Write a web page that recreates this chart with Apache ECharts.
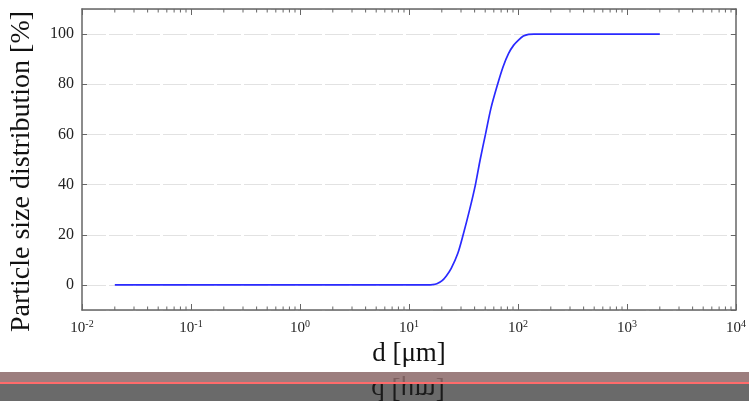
<!DOCTYPE html>
<html>
<head>
<meta charset="utf-8">
<script src="https://cdn.jsdelivr.net/npm/echarts@6/dist/echarts.min.js"></script>
<style>
  html, body { margin: 0; padding: 0; background: #fff; }
  #chart { width: 749px; height: 401px; }
</style>
</head>
<body>
<div id="chart"></div>
<script>
// particle size d [um] vs cumulative distribution [%]
var sizes = [0.02, 1, 10, 15, 16.5, 18, 20, 22, 24.4, 28, 31.4, 36, 40.7, 45, 50.3, 56.5, 65, 73, 82, 91, 101, 112, 125, 140, 2000];
var dist  = [0,    0, 0,  0,  0.1,  0.5, 1.6, 3.6, 6.6, 12.5, 20, 30, 40, 50, 60, 70.5, 80, 87, 92.3, 95.5, 97.6, 99.2, 99.9, 100, 100];

var xName = 'd [\u03bcm]';
var yName = 'Particle size distribution [%]';

var seriesData = []
for (var i = 0; i < sizes.length; ++i) {
    seriesData.push([sizes[i], dist[i]])
}

// log minor ticks 2..9 of each decade
var minorTicks = []
for (var e = -2; e < 4; ++e) {
    for (var m = 2; m <= 9; ++m) {
        minorTicks.push([m * Math.pow(10, e), 0])
    }
}

var serif = 'Liberation Serif';
var axisColor = '#666';

function expLabel(v) {
    var p = Math.round(Math.log(v) / Math.LN10)
    return '10{sup|' + p + '}'
}

var option = {
    animation: false,
    backgroundColor: '#fff',
    grid: { left: 82, right: 11, top: 9, bottom: 91 },
    xAxis: [
        {
            type: 'log',
            logBase: 10,
            min: 0.01,
            max: 10000,
            splitNumber: 6,
            name: xName,
            nameLocation: 'middle',
            nameGap: 28,
            nameTextStyle: { fontFamily: serif, fontSize: 27, color: '#111' },
            axisLine: { show: true, onZero: false, lineStyle: { color: axisColor, width: 1.5 } },
            axisTick: { show: true, inside: true, length: 6, lineStyle: { color: axisColor } },
            splitLine: { show: false },
            axisLabel: {
                formatter: expLabel,
                margin: 9,
                fontFamily: serif,
                fontSize: 15,
                color: '#222',
                rich: {
                    sup: { fontFamily: serif, fontSize: 10, color: '#222', verticalAlign: 'top', padding: [0, 0, 8, 0] }
                }
            }
        },
        {
            type: 'log',
            logBase: 10,
            min: 0.01,
            max: 10000,
            splitNumber: 6,
            position: 'top',
            axisLine: { show: true, onZero: false, lineStyle: { color: axisColor, width: 1.5 } },
            axisTick: { show: true, inside: true, length: 6, lineStyle: { color: axisColor } },
            axisLabel: { show: false },
            splitLine: { show: false }
        }
    ],
    yAxis: [
        {
            type: 'value',
            min: -10,
            max: 110,
            splitNumber: 6,
            name: yName,
            nameLocation: 'middle',
            nameGap: 46,
            nameTextStyle: { fontFamily: serif, fontSize: 28, color: '#111', padding: [0, 24, 0, 0] },
            axisLine: { show: true, lineStyle: { color: axisColor, width: 1.5 } },
            axisTick: { show: true, inside: true, length: 5, lineStyle: { color: axisColor } },
            axisLabel: {
                margin: 8,
                fontFamily: serif,
                fontSize: 16,
                color: '#222',
                showMinLabel: false,
                showMaxLabel: false
            },
            splitLine: {
                show: true,
                lineStyle: { color: '#e2e2e2', type: [24, 3], width: 1 }
            }
        },
        {
            type: 'value',
            min: -10,
            max: 110,
            splitNumber: 6,
            position: 'right',
            axisLine: { show: true, lineStyle: { color: axisColor, width: 1.5 } },
            axisTick: { show: true, inside: true, length: 5, lineStyle: { color: axisColor } },
            axisLabel: { show: false },
            splitLine: { show: false }
        }
    ],
    series: [
        {
            type: 'line',
            data: seriesData,
            showSymbol: false,
            smooth: 0.3,
            lineStyle: { color: '#2a2aff', width: 1.7 },
            z: 5
        },
        {
            // minor log ticks, bottom and top
            type: 'custom',
            data: minorTicks,
            silent: true,
            clip: false,
            encode: { x: 0, y: 1 },
            renderItem: function (params, api) {
                var cs = params.coordSys
                var px = api.coord([api.value(0), 0])[0]
                var st = { stroke: axisColor, lineWidth: 1 }
                return {
                    type: 'group',
                    children: [
                        { type: 'line', shape: { x1: px, y1: cs.y + cs.height, x2: px, y2: cs.y + cs.height - 3.5 }, style: st },
                        { type: 'line', shape: { x1: px, y1: cs.y, x2: px, y2: cs.y + 3.5 }, style: st }
                    ]
                }
            }
        }
    ],
    graphic: [
        { type: 'rect', shape: { x: 0, y: 372, width: 749, height: 29 }, style: { fill: '#6a6a6a' }, z: 10 },
        {
            type: 'text', x: 408, y: 389, scaleY: -1,
            style: { text: xName, fontFamily: serif, fontSize: 27, fill: '#1a1a1a', textAlign: 'center', textVerticalAlign: 'middle' },
            z: 11
        },
        { type: 'rect', shape: { x: 0, y: 372, width: 749, height: 11 }, style: { fill: 'rgba(190,140,140,0.6)' }, z: 12 },
        { type: 'rect', shape: { x: 0, y: 382, width: 749, height: 2 }, style: { fill: '#ff6b6b' }, z: 13 }
    ]
};

var chart = echarts.init(document.getElementById('chart'), null, { renderer: 'canvas' });
chart.setOption(option);
</script>
</body>
</html>
